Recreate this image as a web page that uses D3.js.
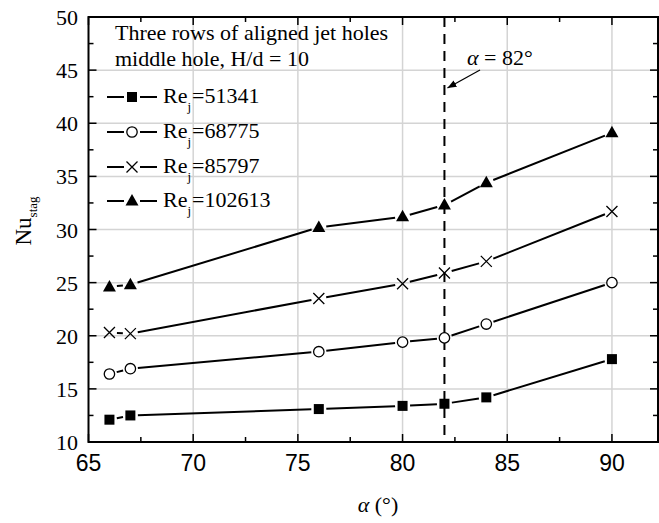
<!DOCTYPE html>
<html>
<head>
<meta charset="utf-8">
<script src="https://cdn.jsdelivr.net/npm/d3@7"></script>
<style>
  body { margin: 0; background: #fff; }
  svg { display: block; }
</style>
</head>
<body>
<div id="chart"></div>
<script>
// angle values (deg)
const alphas = [66, 67, 76, 80, 82, 84, 90];

// Nu_stag for each Re_j
const nu51341 = [12.1, 12.5, 13.1, 13.4, 13.6, 14.2, 17.8];
const nu68775 = [16.4, 16.9, 18.5, 19.4, 19.8, 21.1, 25.0];
const nu85797 = [20.3, 20.2, 23.5, 24.9, 25.9, 27.0, 31.7];
const nu102613 = [24.6, 24.8, 30.2, 31.2, 32.3, 34.4, 39.1];

const seriesNames = ["51341", "68775", "85797", "102613"];
const seriesSymbols = ["square", "circle", "cross", "triangle"];

const xTicks = [65, 70, 75, 80, 85, 90];
const yTicks = [10, 15, 20, 25, 30, 35, 40, 45, 50];

const W = 659, H = 523;
const plot = { left: 88.5, right: 658, top: 17, bottom: 442 };

const svg = d3.select("#chart").append("svg")
    .attr("width", W)
    .attr("height", H);

const x = d3.scaleLinear().domain([65, 92.2]).range([plot.left, plot.right]);
const y = d3.scaleLinear().domain([10, 50]).range([plot.bottom, plot.top]);

// grid
const grid = svg.append("g").attr("stroke", "#d4d4d4").attr("stroke-width", 1.5);
xTicks.filter(d => d > 65).forEach(d => {
    grid.append("line").attr("x1", x(d)).attr("x2", x(d)).attr("y1", plot.top).attr("y2", plot.bottom);
});
yTicks.filter(d => d > 10 && d < 50).forEach(d => {
    grid.append("line").attr("x1", plot.left).attr("x2", plot.right).attr("y1", y(d)).attr("y2", y(d));
});

// ticks, pointing inward on all four sides
const xMinor = d3.range(67.5, 92.2, 5);
const yMinor = d3.range(12.5, 50, 5);
const tickG = svg.append("g").attr("stroke", "#000").attr("stroke-width", 1.5);
function xTick(v, len) {
    tickG.append("line").attr("x1", x(v)).attr("x2", x(v)).attr("y1", plot.bottom).attr("y2", plot.bottom - len);
    tickG.append("line").attr("x1", x(v)).attr("x2", x(v)).attr("y1", plot.top).attr("y2", plot.top + len);
}
function yTick(v, len) {
    tickG.append("line").attr("x1", plot.left).attr("x2", plot.left + len).attr("y1", y(v)).attr("y2", y(v));
    tickG.append("line").attr("x1", plot.right).attr("x2", plot.right - len).attr("y1", y(v)).attr("y2", y(v));
}
xTicks.forEach(v => xTick(v, 8));
xMinor.forEach(v => xTick(v, 5));
yTicks.forEach(v => yTick(v, 8));
yMinor.forEach(v => yTick(v, 5));

// frame
svg.append("rect")
    .attr("x", plot.left).attr("y", plot.top)
    .attr("width", plot.right - plot.left).attr("height", plot.bottom - plot.top)
    .attr("fill", "none").attr("stroke", "#000").attr("stroke-width", 2);

// tick labels
svg.append("g").selectAll("text").data(xTicks).enter().append("text")
    .attr("x", d => x(d)).attr("y", 471)
    .attr("text-anchor", "middle")
    .style("font-family", "'Liberation Sans', Arial, sans-serif")
    .style("font-size", "23px")
    .text(d => d);

svg.append("g").selectAll("text").data(yTicks).enter().append("text")
    .attr("x", 78).attr("y", d => y(d) + 8)
    .attr("text-anchor", "end")
    .style("font-family", "'Liberation Serif', 'Times New Roman', serif")
    .style("font-size", "22px")
    .text(d => d);

// axis titles
const serif = "'Liberation Serif', 'Times New Roman', serif";
const xt = svg.append("text")
    .attr("x", 378).attr("y", 512)
    .attr("text-anchor", "middle")
    .style("font-family", serif).style("font-size", "22px");
xt.append("tspan").style("font-style", "italic").text("α");
xt.append("tspan").text(" (°)");

const yt = svg.append("text")
    .attr("transform", "translate(31,221) rotate(-90)")
    .attr("text-anchor", "middle")
    .style("font-family", serif).style("font-size", "23px");
yt.append("tspan").text("Nu");
yt.append("tspan").attr("dy", 6).style("font-size", "13px").text("stag");

// alpha = 82 marker line
svg.append("line")
    .attr("x1", x(82)).attr("x2", x(82))
    .attr("y1", plot.top).attr("y2", plot.bottom)
    .attr("stroke", "#000").attr("stroke-width", 2)
    .attr("stroke-dasharray", "10,7");

svg.append("defs").append("marker")
    .attr("id", "arrow")
    .attr("viewBox", "0 0 10 10")
    .attr("refX", 10).attr("refY", 5)
    .attr("markerWidth", 9).attr("markerHeight", 9)
    .attr("markerUnits", "userSpaceOnUse")
    .attr("orient", "auto")
    .append("path").attr("d", "M0,1 L10,5 L0,9 Z").attr("fill", "#000");

svg.append("line")
    .attr("x1", 480).attr("y1", 70).attr("x2", x(82) + 3).attr("y2", 88)
    .attr("stroke", "#000").attr("stroke-width", 1.2)
    .attr("marker-end", "url(#arrow)");

const ann = svg.append("text")
    .attr("x", 467).attr("y", 65)
    .style("font-family", serif).style("font-size", "22px");
ann.append("tspan").style("font-style", "italic").text("α");
ann.append("tspan").text(" = 82°");

// markers
function drawSymbol(g, type, cx, cy) {
    if (type === "square") {
        g.append("rect").attr("x", cx - 5).attr("y", cy - 5).attr("width", 10).attr("height", 10).attr("fill", "#000");
    } else if (type === "circle") {
        g.append("circle").attr("cx", cx).attr("cy", cy).attr("r", 5.2)
            .attr("fill", "#fff").attr("stroke", "#000").attr("stroke-width", 1.3);
    } else if (type === "cross") {
        g.append("path")
            .attr("d", `M${cx - 5.5},${cy - 5.5}L${cx + 5.5},${cy + 5.5}M${cx - 5.5},${cy + 5.5}L${cx + 5.5},${cy - 5.5}`)
            .attr("stroke", "#000").attr("stroke-width", 1.3).attr("fill", "none");
    } else {
        g.append("path")
            .attr("d", `M${cx},${cy - 7}L${cx + 6.5},${cy + 4.5}L${cx - 6.5},${cy + 4.5}Z`)
            .attr("fill", "#000");
    }
}

const allSeries = [nu51341, nu68775, nu85797, nu102613];
const gap = 7.5;

allSeries.forEach((vals, si) => {
    const pts = alphas.map((a, i) => [x(a), y(vals[i])]);
    const g = svg.append("g");
    // connecting segments stop short of the markers
    for (let i = 0; i < pts.length - 1; i++) {
        const [x1, y1] = pts[i], [x2, y2] = pts[i + 1];
        const len = Math.hypot(x2 - x1, y2 - y1);
        const ux = (x2 - x1) / len, uy = (y2 - y1) / len;
        g.append("line")
            .attr("x1", x1 + ux * gap).attr("y1", y1 + uy * gap)
            .attr("x2", x2 - ux * gap).attr("y2", y2 - uy * gap)
            .attr("stroke", "#000").attr("stroke-width", 2);
    }
    pts.forEach(p => drawSymbol(g, seriesSymbols[si], p[0], p[1]));
});

// legend
const leg = svg.append("g").style("font-family", serif);
leg.append("text").attr("x", 115).attr("y", 40).style("font-size", "22px").text("Three rows of aligned jet holes");
leg.append("text").attr("x", 115).attr("y", 66).style("font-size", "22px").text("middle hole, H/d = 10");

const legY = [103, 138, 173, 207];
seriesNames.forEach((name, i) => {
    const ly = legY[i] - 6;
    const g = leg.append("g");
    g.append("line").attr("x1", 107).attr("x2", 124).attr("y1", ly).attr("y2", ly).attr("stroke", "#000").attr("stroke-width", 2);
    g.append("line").attr("x1", 140).attr("x2", 157).attr("y1", ly).attr("y2", ly).attr("stroke", "#000").attr("stroke-width", 2);
    drawSymbol(g, seriesSymbols[i], 132, ly);
    const t = g.append("text").attr("x", 163).attr("y", legY[i]).style("font-size", "22px");
    t.append("tspan").text("Re");
    t.append("tspan").attr("dy", 8).style("font-size", "13px").text("j");
    t.append("tspan").attr("dy", -8).attr("dx", 1).text("=" + name);
});
</script>
</body>
</html>
